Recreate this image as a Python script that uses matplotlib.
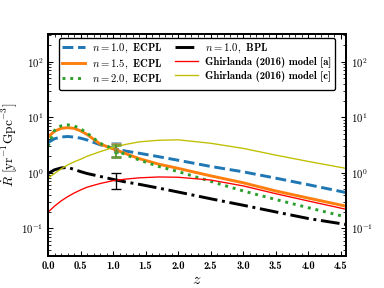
import matplotlib
matplotlib.use("Agg")
import matplotlib.pyplot as plt
from matplotlib.ticker import FormatStrFormatter, FuncFormatter, LogLocator
import numpy as np

plt.rcParams['font.family'] = ['cmb10', 'DejaVu Serif']
plt.rcParams['mathtext.fontset'] = 'cm'
plt.rcParams['axes.unicode_minus'] = True

z = [0.0, 0.1, 0.2, 0.3, 0.4, 0.5, 0.6, 0.8, 1.0, 1.2, 1.4, 1.7, 2.0, 2.5, 3.0, 3.5, 4.0, 4.58]
ecpl_n10 = [3.5, 4.1, 4.4, 4.5, 4.4, 4.2, 3.9, 3.2, 2.75, 2.45, 2.25, 1.95, 1.68, 1.3, 1.04, 0.8, 0.61, 0.44]
ecpl_n15 = [4.4, 5.6, 6.3, 6.5, 6.3, 5.7, 4.9, 3.3, 2.7, 2.2, 1.8, 1.43, 1.2, 0.88, 0.66, 0.47, 0.35, 0.25]
ecpl_n20 = [3.0, 5.8, 7.0, 7.3, 7.0, 6.2, 5.2, 3.4, 2.7, 2.1, 1.7, 1.3, 1.05, 0.70, 0.47, 0.33, 0.235, 0.16]
bpl_n10 = [0.97, 1.13, 1.22, 1.25, 1.15, 1.05, 0.97, 0.86, 0.76, 0.68, 0.62, 0.53, 0.45, 0.34, 0.26, 0.197, 0.15, 0.117]
ghir_a = [0.195, 0.25, 0.31, 0.37, 0.43, 0.49, 0.55, 0.64, 0.72, 0.77, 0.81, 0.84, 0.83, 0.74, 0.58, 0.42, 0.31, 0.22]
ghir_c = [0.8, 0.97, 1.17, 1.38, 1.57, 1.75, 1.98, 2.4, 2.85, 3.25, 3.6, 3.85, 3.92, 3.4, 2.75, 2.08, 1.6, 1.2]

z_obs = 1.05
ecpl_obs = [2.6, 2.55, 2.5]
ecpl_lo = [1.95, 1.95, 1.95]
ecpl_hi = [3.4, 3.3, 3.2]
bpl_obs = 0.75
bpl_lo = 0.51
bpl_hi = 1.0

fig = plt.figure(figsize=(4, 3), dpi=96)
ax = fig.add_axes([0.125, 0.111, 0.776, 0.771])

ax.plot(z, ecpl_n10, '--', color='C0', lw=2.2, label=r'$n=1.0,$ ECPL')
ax.plot(z, ecpl_n15, '-', color='C1', lw=2.2, label=r'$n=1.5,$ ECPL')
ax.plot(z, ecpl_n20, ':', color='C2', lw=2.2, label=r'$n=2.0,$ ECPL')
ax.plot(z, bpl_n10, '-.', color='k', lw=2.2, label=r'$n=1.0,$ BPL')
ax.plot(z, ghir_a, '-', color='r', lw=1, label='Ghirlanda (2016) model [a]')
ax.plot(z, ghir_c, '-', color='y', lw=1, label='Ghirlanda (2016) model [c]')

cols = ['C0', 'C1', 'C2']
mk = ['s', 'o', '^']
for c, m, v, lo, hi in zip(cols, mk, ecpl_obs, ecpl_lo, ecpl_hi):
    ax.errorbar([z_obs], [v], yerr=[[v - lo], [hi - v]], color=c, marker=m, ms=3,
                capsize=3.5, capthick=2, elinewidth=1.5, alpha=0.6)
ax.errorbar([z_obs], [bpl_obs], yerr=[[bpl_obs - bpl_lo], [bpl_hi - bpl_obs]],
            color='k', capsize=3.5, capthick=1, elinewidth=1)

ax.set_yscale('log')
ax.set_xlim(0, 4.58)
ax.set_ylim(10**-1.5, 10**2.5)
ax.set_xticks(np.arange(0, 4.51, 0.5))
ax.xaxis.set_major_formatter(FormatStrFormatter('%.1f'))
ax.yaxis.set_major_locator(LogLocator(base=10, numticks=10))
ax.yaxis.set_major_formatter(FuncFormatter(lambda v, p: r'$10^{%d}$' % int(round(np.log10(v)))))
ax.minorticks_on()
ax.tick_params(which='both', direction='in', top=True, right=True, labelright=True, labelsize=8)
ax.tick_params(which='major', length=4)
ax.tick_params(which='minor', length=2)
for s in ax.spines.values():
    s.set_linewidth(1.5)

ax.set_xlabel(r'$z$', fontsize=12, labelpad=2)
ax.set_ylabel(r'$\dot{R}\ [\mathrm{yr^{-1}Gpc^{-3}}]$', fontsize=10, labelpad=1.5)

leg = ax.legend(loc='upper center', ncol=2, fontsize=8, frameon=True, fancybox=True,
                edgecolor='k', framealpha=1, handlelength=2.1, columnspacing=1.2,
                borderaxespad=0.35, labelspacing=0.22, handletextpad=0.7, borderpad=0.35)
leg.get_frame().set_linewidth(1)

fig.savefig('out.png', dpi=96)
